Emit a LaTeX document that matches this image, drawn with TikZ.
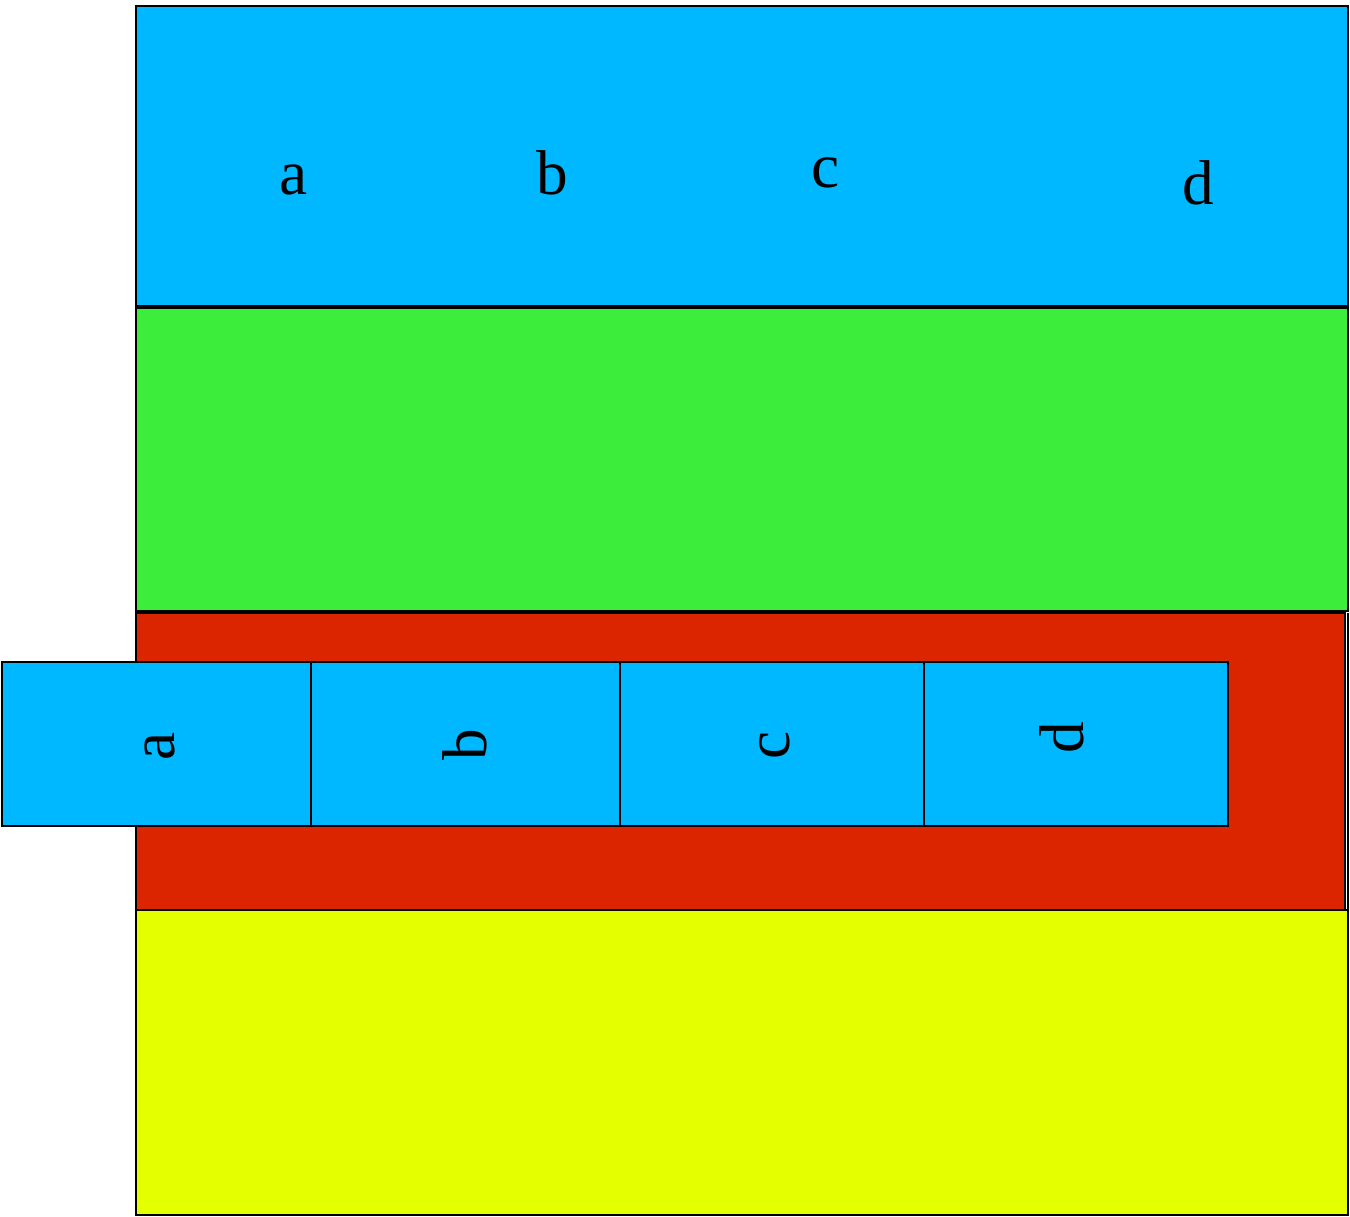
\documentclass[tikz,border=0pt]{standalone}
\usepackage{fontspec}
\setmainfont{Liberation Serif}
\usepackage{tikz}
\usetikzlibrary{positioning,calc}
\definecolor{BandBlue}{RGB}{0,184,255}
\definecolor{BandGreen}{RGB}{60,237,60}
\definecolor{BandRed}{RGB}{219,36,0}
\definecolor{BandYellow}{RGB}{228,255,0}
\tikzset{
  band/.style={draw=black,line width=1pt},
  cell/.style={draw=black,line width=1pt,fill=BandBlue},
  lbl/.style={font=\fontsize{36}{40}\selectfont,inner sep=0pt,anchor=base},
}
\tikzset{vlbl/.style={font=\fontsize{36}{40}\selectfont,inner sep=0pt,rotate=90}}
\begin{document}
\begin{tikzpicture}[x=0.02cm,y=-0.02cm]
\useasboundingbox (0,0) rectangle (1350,1217);
% four bands
\draw[band,fill=BandBlue] (136,6) rectangle (1348,306);
\draw[band,fill=BandGreen] (136,308) rectangle (1348,611);
\draw[band,fill=BandYellow] (136,910) rectangle (1348,1215);
\draw[band,fill=BandRed] (136,613) rectangle (1345,910);
\draw[line width=0.6pt] (1348,613)--(1348,910);
% top labels
\node[lbl](ta) at (294,194){a};\node[lbl](tb) at (552,194){b};\node[lbl](tc) at (826,187){c};\node[lbl](td) at (1198,204){d};
% row of cells
\draw[cell] (2,662) rectangle (311,826);\draw[cell] (311,662) rectangle (620,826);
\draw[cell] (620,662) rectangle (924,826);\draw[cell] (924,662) rectangle (1228,826);
\node[vlbl](ca) at (160,746){a};\node[vlbl](cb) at (465,745){b};\node[vlbl](cc) at (775,745){c};\node[vlbl](cd) at (1062,738){d};
\end{tikzpicture}
\end{document}
